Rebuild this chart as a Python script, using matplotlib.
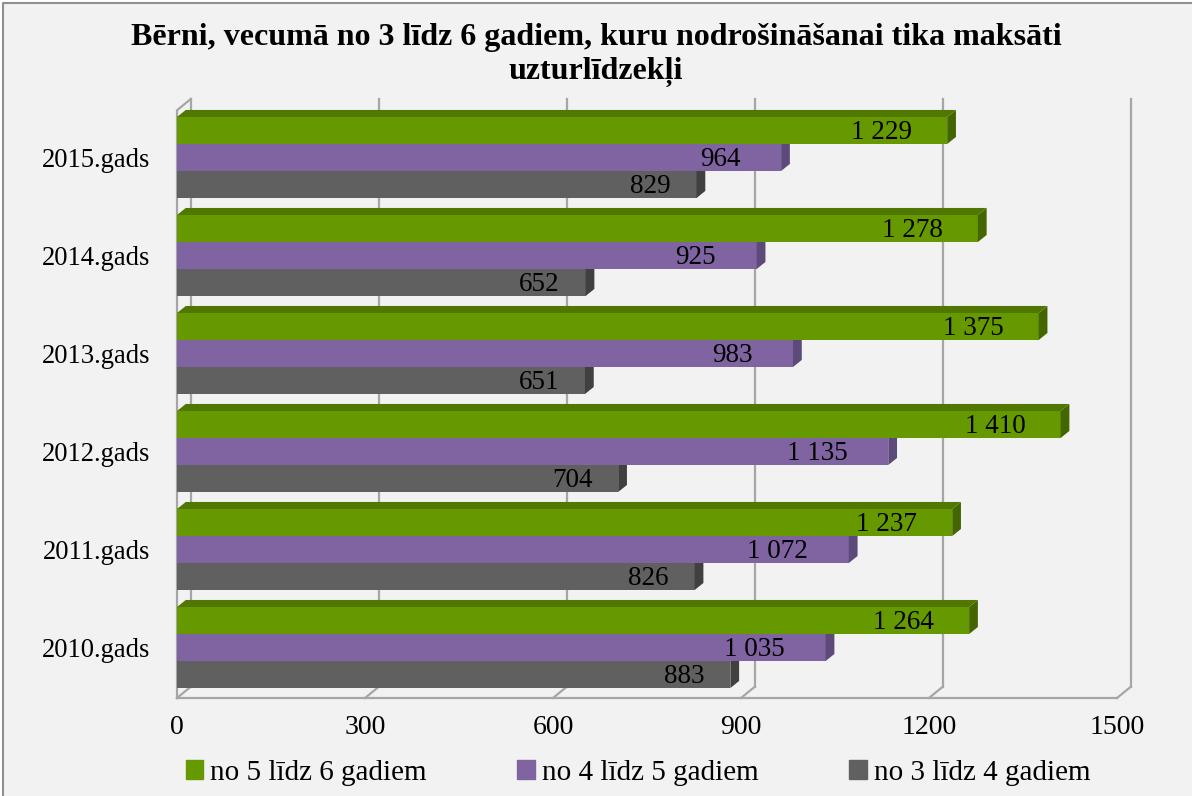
import matplotlib.pyplot as plt
from matplotlib.patches import Polygon, Patch, Rectangle

plt.rcParams['font.family'] = ['Liberation Serif', 'DejaVu Serif']

years = ['2010.gads', '2011.gads', '2012.gads', '2013.gads', '2014.gads', '2015.gads']
age_5_6 = [1264, 1237, 1410, 1375, 1278, 1229]
age_4_5 = [1035, 1072, 1135, 983, 925, 964]
age_3_4 = [883, 826, 704, 651, 652, 829]
series_names = ['no 5 līdz 6 gadiem', 'no 4 līdz 5 gadiem', 'no 3 līdz 4 gadiem']
title = 'Bērni, vecumā no 3 līdz 6 gadiem, kuru nodrošināšanai tika maksāti\nuzturlīdzekļi'

# colours: front, top, side
colors = {
    'green': ('#669900', '#507800', '#446600'),
    'purple': ('#8064A2', '#6A5088', '#5E4A7A'),
    'gray': ('#606060', '#4A4A4A', '#404040'),
}

bg = '#F2F2F2'
grid_c = '#A6A6A6'

fig = plt.figure(figsize=(11.92, 7.96), dpi=100, facecolor=bg)
W, H = 1192, 796

# thin white margin on top/left and the chart frame
fig.patches.append(Rectangle((0, 1 - 2 / H), 1, 2 / H, transform=fig.transFigure,
                             facecolor='white', edgecolor='none'))
fig.patches.append(Rectangle((0, 0), 2 / W, 1, transform=fig.transFigure,
                             facecolor='white', edgecolor='none'))
fig.add_artist(plt.Line2D([3 / W, 3 / W, 1], [0, 1 - 3 / H, 1 - 3 / H], transform=fig.transFigure,
                          color='#909090', lw=1.5))

ax = fig.add_axes([177 / W, 1 - 698 / H, (1117 - 177) / W, (698 - 99) / H])
ax.set_facecolor('none')
for s in ax.spines.values():
    s.set_visible(False)

ymin, ymax = -0.515, 5.597
ax.set_xlim(0, 1500)
ax.set_ylim(ymin, ymax)

# wall depth (data units) and bar depth
wdx, wdy = 22, 0.115
bdx, bdy = 14, 0.072
bh = 0.2755

ticks = [0, 300, 600, 900, 1200, 1500]
# back wall gridlines + floor diagonals
for t in ticks:
    ax.plot([t + wdx, t + wdx], [ymin + wdy, ymax], color=grid_c, lw=1.6, zorder=1, clip_on=False)
    ax.plot([t, t + wdx], [ymin, ymin + wdy], color=grid_c, lw=1.6, zorder=1, clip_on=False)
# floor front edge
ax.plot([0, 1500], [ymin, ymin], color=grid_c, lw=1.6, zorder=1, clip_on=False)
# left wall
ax.plot([0, 0, wdx], [ymin, ymax - wdy, ymax], color=grid_c, lw=1.6, zorder=1, clip_on=False)

ypos = list(range(len(years)))
series = [(age_3_4, 'gray', -1), (age_4_5, 'purple', 0), (age_5_6, 'green', 1)]
label_gap = {'green': 56, 'purple': 65, 'gray': 41}

for i, y in enumerate(ypos):
    for vals, cname, k in series:
        front, top, side = colors[cname]
        v = vals[i]
        yc = y + k * bh
        y0, y1 = yc - bh / 2, yc + bh / 2
        ax.barh(yc, v, height=bh, color=front, zorder=3 + k)
        ax.add_patch(Polygon([(v, y0), (v, y1), (v + bdx, y1 + bdy), (v + bdx, y0 + bdy)],
                             closed=True, facecolor=side, edgecolor='none', zorder=3 + k))
        if cname == 'green':
            ax.add_patch(Polygon([(0, y1), (v, y1), (v + bdx, y1 + bdy), (bdx, y1 + bdy)],
                                 closed=True, facecolor=top, edgecolor='none', zorder=3 + k))
        lbl = f'{v:,}'.replace(',', ' ')
        ax.text(v - label_gap[cname], yc - 0.02, lbl, ha='right', va='center', fontsize=19.5, zorder=10)

ax.set_xticks(ticks)
ax.set_xticklabels([str(t) for t in ticks], fontsize=20)
ax.set_yticks(ypos)
ax.set_yticklabels(years, fontsize=19.2)
ax.tick_params(axis='x', length=0, pad=12)
ax.tick_params(axis='y', length=0, pad=19)

fig.text(0.5, 1 - 55 / H, title, ha='center', va='center', fontsize=23, fontweight='bold',
         linespacing=1.2)

handles = [Patch(color=colors[c][0]) for c in ['green', 'purple', 'gray']]
fig.legend(handles, series_names, loc='center', bbox_to_anchor=(638 / W, 1 - 773 / H), ncol=3,
           frameon=False, fontsize=21, handlelength=0.6, handleheight=0.6, handletextpad=0.25,
           columnspacing=3.1)

fig.savefig('out.png', dpi=100, facecolor=bg)
